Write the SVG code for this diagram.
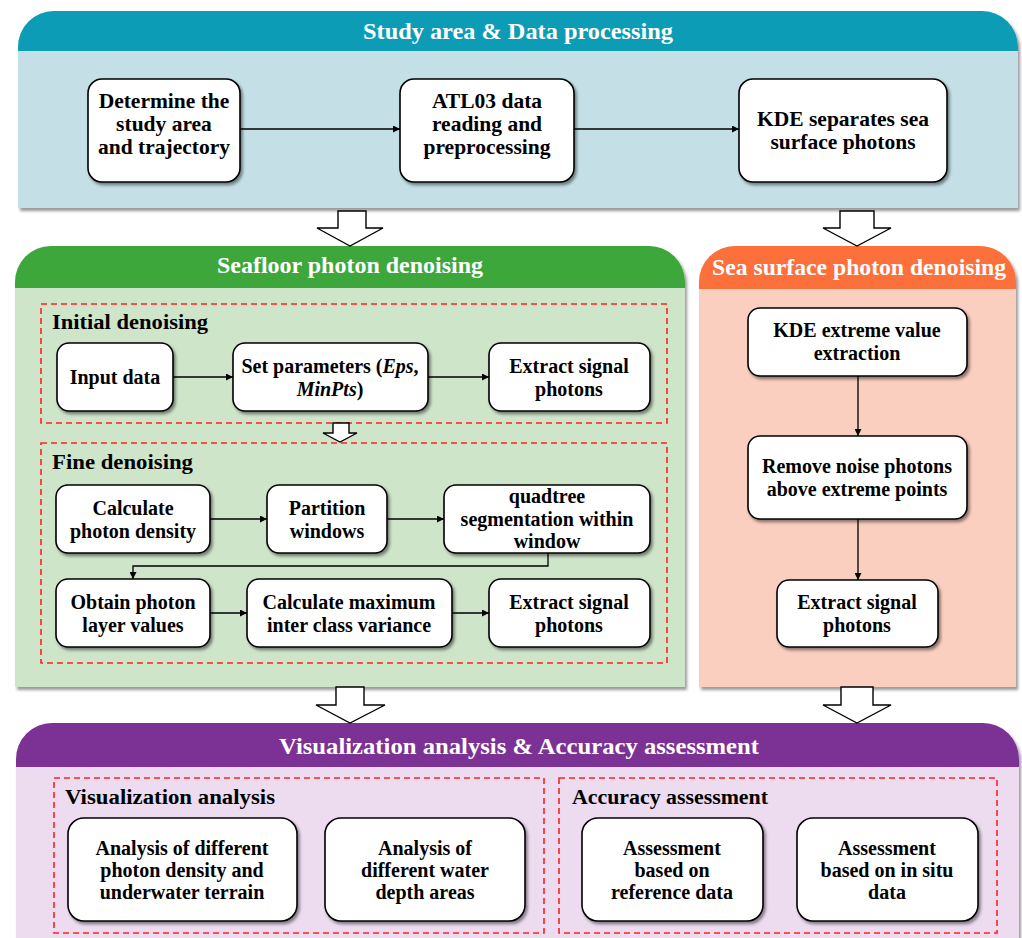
<svg xmlns="http://www.w3.org/2000/svg" width="1022" height="938" viewBox="0 0 1022 938">
<defs>
<filter id="sh" x="-10%" y="-10%" width="125%" height="130%">
<feDropShadow dx="2" dy="2.5" stdDeviation="1.5" flood-color="#000" flood-opacity="0.45"/>
</filter>
<filter id="ssh" x="-5%" y="-5%" width="110%" height="115%">
<feDropShadow dx="2" dy="3" stdDeviation="1.5" flood-color="#000" flood-opacity="0.4"/>
</filter>
<marker id="ah" viewBox="0 0 10 10" refX="10" refY="5" markerWidth="7" markerHeight="7" markerUnits="userSpaceOnUse" orient="auto">
<path d="M0,0 L10,5 L0,10 Z" fill="#000"/>
</marker>
<style>
.node rect{fill:#fff;stroke:#000;stroke-width:1.6;filter:url(#sh)}
.node text{font-family:"Liberation Serif",serif;font-weight:bold;font-size:20px;fill:#000;text-anchor:middle}
.big text{font-size:21.5px}
.hdr{font-family:"Liberation Serif",serif;font-weight:bold;font-size:23px;fill:#fff;text-anchor:middle}
.sub{font-family:"Liberation Serif",serif;font-weight:bold;font-size:20px;fill:#000}
.dash{fill:none;stroke:#ff2020;stroke-width:1.6;stroke-dasharray:6 4}
.conn path{fill:none;stroke:#000;stroke-width:1.3;marker-end:url(#ah)}
.barrow{fill:#fff;stroke:#000;stroke-width:1.4}
</style>
</defs>

<!-- Section 1 -->
<g id="sec-study" filter="url(#ssh)">
<path d="M18,208 V47 A36,36 0 0 1 54,11 H982 A36,36 0 0 1 1018,47 V208 Z" fill="#c4e0e6"/>
<path d="M18,51 V47 A36,36 0 0 1 54,11 H982 A36,36 0 0 1 1018,47 V51 Z" fill="#0e9cb5"/>
</g>
<text class="hdr" x="518" y="39" textLength="310" lengthAdjust="spacingAndGlyphs">Study area &amp; Data processing</text>

<!-- Section seafloor -->
<g id="sec-seafloor" filter="url(#ssh)">
<path d="M15,687 V282 A36,36 0 0 1 51,246 H649 A36,36 0 0 1 685,282 V687 Z" fill="#cfe5ca"/>
<path d="M15,288 V282 A36,36 0 0 1 51,246 H649 A36,36 0 0 1 685,282 V288 Z" fill="#3da73a"/>
</g>
<text class="hdr" x="350" y="273" textLength="266" lengthAdjust="spacingAndGlyphs">Seafloor photon denoising</text>

<!-- Section sea surface -->
<g id="sec-seasurface" filter="url(#ssh)">
<path d="M699,687 V282 A36,36 0 0 1 735,246 H980 A36,36 0 0 1 1016,282 V687 Z" fill="#fbcfc0"/>
<path d="M699,289 V282 A36,36 0 0 1 735,246 H980 A36,36 0 0 1 1016,282 V289 Z" fill="#fb703a"/>
</g>
<text class="hdr" x="859" y="275" textLength="294" lengthAdjust="spacingAndGlyphs">Sea surface photon denoising</text>

<!-- Section visualization -->
<g id="sec-visual" filter="url(#ssh)">
<path d="M16,945 V759 A36,36 0 0 1 52,723 H983 A36,36 0 0 1 1019,759 V945 Z" fill="#eddcf0"/>
<path d="M16,767 V759 A36,36 0 0 1 52,723 H983 A36,36 0 0 1 1019,759 V767 Z" fill="#7b3294"/>
</g>
<text class="hdr" x="519" y="754" textLength="480" lengthAdjust="spacingAndGlyphs">Visualization analysis &amp; Accuracy assessment</text>

<!-- Dashed group boxes -->
<g id="groups">
<rect class="dash" x="41" y="304" width="626" height="119"/>
<rect class="dash" x="41" y="443" width="626" height="220"/>
<rect class="dash" x="54" y="778" width="490" height="155"/>
<rect class="dash" x="559" y="778" width="438" height="155"/>
<text class="sub" x="52" y="329" textLength="156" lengthAdjust="spacingAndGlyphs">Initial denoising</text>
<text class="sub" x="52" y="469" textLength="141" lengthAdjust="spacingAndGlyphs">Fine denoising</text>
<text class="sub" x="65" y="804" textLength="210" lengthAdjust="spacingAndGlyphs">Visualization analysis</text>
<text class="sub" x="572" y="804" textLength="196" lengthAdjust="spacingAndGlyphs">Accuracy assessment</text>
</g>

<!-- Block arrows -->
<g id="block-arrows">
<path class="barrow" d="M338,211 H366 V228 H383 L350,246 L317,228 H338 Z"/>
<path class="barrow" d="M840,211 H874 V228 H891 L857,246 L823,228 H840 Z"/>
<path class="barrow" d="M333,423 H349 V433 H357 L340,442 L323,433 H333 Z"/>
<path class="barrow" d="M336,687 H364 V705 H385 L350,723 L316,705 H336 Z"/>
<path class="barrow" d="M841,687 H873 V705 H891 L857,723 L823,705 H841 Z"/>
</g>

<!-- Connectors -->
<g id="connectors" class="conn">
<path d="M240,129 H400"/>
<path d="M574,129 H739"/>
<path d="M173,377 H233"/>
<path d="M428,377 H489"/>
<path d="M210,519 H267"/>
<path d="M387,519 H444"/>
<path d="M548,553 V566 H133 V579"/>
<path d="M210,613 H247"/>
<path d="M452,613 H489"/>
<path d="M858,376 V436"/>
<path d="M858,519 V580"/>
</g>

<!-- Nodes: top -->
<g id="n-study" class="node big"><rect x="88" y="79" width="152" height="103" rx="14"/>
<text x="164" y="108">Determine the</text><text x="164" y="131">study area</text><text x="164" y="154">and trajectory</text></g>
<g id="n-atl03" class="node big"><rect x="400" y="79" width="174" height="103" rx="14"/>
<text x="487" y="108">ATL03 data</text><text x="487" y="131">reading and</text><text x="487" y="154">preprocessing</text></g>
<g id="n-kde" class="node big"><rect x="739" y="79" width="208" height="103" rx="14"/>
<text x="843" y="126">KDE separates sea</text><text x="843" y="149">surface photons</text></g>

<!-- Nodes: initial denoising -->
<g id="n-input" class="node"><rect x="57" y="343" width="116" height="68" rx="12"/>
<text x="115" y="384">Input data</text></g>
<g id="n-params" class="node"><rect x="233" y="343" width="195" height="68" rx="12"/>
<text x="330" y="373">Set parameters (<tspan font-style="italic">Eps</tspan>,</text><text x="330" y="396"><tspan font-style="italic">MinPts</tspan>)</text></g>
<g id="n-extract1" class="node"><rect x="489" y="343" width="161" height="68" rx="12"/>
<text x="569" y="373">Extract signal</text><text x="569" y="396">photons</text></g>

<!-- Nodes: fine denoising -->
<g id="n-density" class="node"><rect x="56" y="485" width="154" height="68" rx="12"/>
<text x="133" y="515">Calculate</text><text x="133" y="538">photon density</text></g>
<g id="n-partition" class="node"><rect x="267" y="485" width="120" height="68" rx="12"/>
<text x="327" y="515">Partition</text><text x="327" y="538">windows</text></g>
<g id="n-quadtree" class="node"><rect x="444" y="485" width="206" height="68" rx="12"/>
<text x="547" y="503">quadtree</text><text x="547" y="526">segmentation within</text><text x="547" y="548">window</text></g>
<g id="n-layer" class="node"><rect x="56" y="579" width="154" height="68" rx="12"/>
<text x="133" y="609">Obtain photon</text><text x="133" y="632">layer values</text></g>
<g id="n-variance" class="node"><rect x="247" y="579" width="205" height="68" rx="12"/>
<text x="349" y="609">Calculate maximum</text><text x="349" y="632">inter class variance</text></g>
<g id="n-extract2" class="node"><rect x="489" y="579" width="161" height="68" rx="12"/>
<text x="569" y="609">Extract signal</text><text x="569" y="632">photons</text></g>

<!-- Nodes: sea surface -->
<g id="n-kdeext" class="node"><rect x="748" y="308" width="219" height="68" rx="12"/>
<text x="857" y="337">KDE extreme value</text><text x="857" y="360">extraction</text></g>
<g id="n-remove" class="node"><rect x="748" y="436" width="219" height="83" rx="12"/>
<text x="857" y="473">Remove noise photons</text><text x="857" y="496">above extreme points</text></g>
<g id="n-extract3" class="node"><rect x="777" y="580" width="161" height="67" rx="12"/>
<text x="857" y="609">Extract signal</text><text x="857" y="632">photons</text></g>

<!-- Nodes: bottom -->
<g id="n-vis1" class="node"><rect x="68" y="818" width="229" height="103" rx="16"/>
<text x="182" y="855">Analysis of different</text><text x="182" y="877">photon density and</text><text x="182" y="899">underwater terrain</text></g>
<g id="n-vis2" class="node"><rect x="325" y="818" width="200" height="103" rx="16"/>
<text x="425" y="855">Analysis of</text><text x="425" y="877">different water</text><text x="425" y="899">depth areas</text></g>
<g id="n-acc1" class="node"><rect x="582" y="818" width="181" height="103" rx="16"/>
<text x="672" y="855">Assessment</text><text x="672" y="877">based on</text><text x="672" y="899">reference data</text></g>
<g id="n-acc2" class="node"><rect x="797" y="818" width="181" height="103" rx="16"/>
<text x="887" y="855">Assessment</text><text x="887" y="877">based on in situ</text><text x="887" y="899">data</text></g>
</svg>
